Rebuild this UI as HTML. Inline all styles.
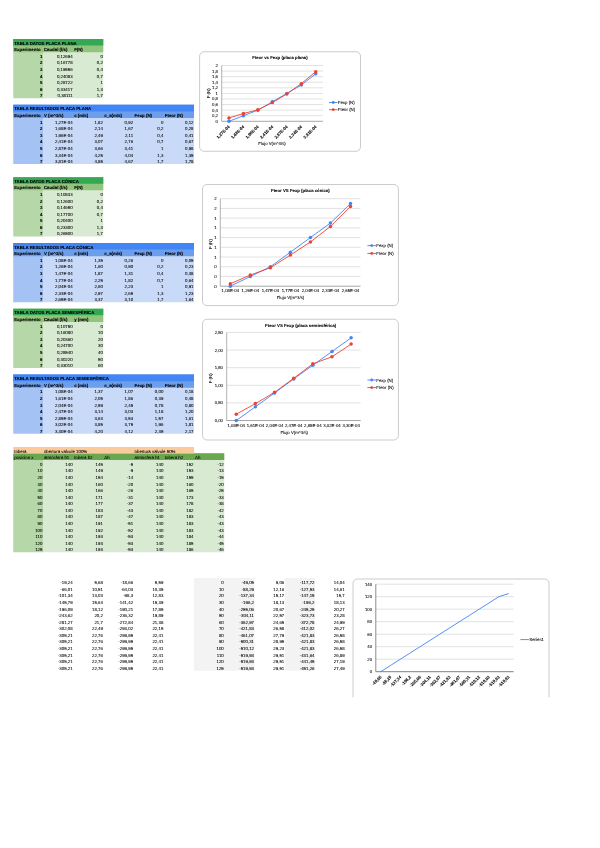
<!DOCTYPE html>
<html><head><meta charset="utf-8"><title>Hoja</title>
<style>
html,body{margin:0;padding:0;background:#fff}
body{width:600px;height:848px;position:relative;overflow:hidden;font-family:"Liberation Sans",sans-serif;text-rendering:geometricPrecision}
.b{position:absolute}
.t{-webkit-text-stroke:0.07px #000;position:absolute;font-size:4.35px;line-height:6.58px;height:6.58px;white-space:nowrap;color:#000}
.bd{font-weight:bold;-webkit-text-stroke:0.1px #000}
svg{position:absolute;left:0;top:0}
svg text{font-family:"Liberation Sans",sans-serif;stroke:#000;stroke-width:0.07px}
#w{position:absolute;left:0;top:0;width:600px;height:848px;zoom:4;transform:scale(.25);transform-origin:0 0}
</style></head><body><div id="w">
<div class="b" style="left:13.20px;top:39.00px;width:30.00px;height:59.22px;background:#b6d7a8"></div>
<div class="b" style="left:42.90px;top:39.00px;width:60.46px;height:59.22px;background:#d9ead3"></div>
<div class="b" style="left:13.20px;top:39.00px;width:90.16px;height:13.16px;background:#93c47d"></div>
<div class="b" style="left:13.20px;top:39.00px;width:90.16px;height:6.58px;background:#34a853"></div>
<div class="t bd" style="left:14.20px;text-align:left;top:39.80px">TABLA DATOS PLACA PLANA</div>
<div class="t bd" style="left:14.20px;text-align:left;top:46.38px">Experimento</div>
<div class="t bd" style="left:43.90px;text-align:left;top:46.38px">Caudal (l/s)</div>
<div class="t bd" style="left:74.13px;text-align:left;top:46.38px">F(N)</div>
<div class="t bd" style="left:13.20px;width:29.20px;text-align:right;top:52.96px">1</div>
<div class="t" style="left:42.90px;width:29.73px;text-align:right;top:52.96px">0,12694</div>
<div class="t" style="left:73.13px;width:29.73px;text-align:right;top:52.96px">0</div>
<div class="t bd" style="left:13.20px;width:29.20px;text-align:right;top:59.54px">2</div>
<div class="t" style="left:42.90px;width:29.73px;text-align:right;top:59.54px">0,16778</div>
<div class="t" style="left:73.13px;width:29.73px;text-align:right;top:59.54px">0,2</div>
<div class="t bd" style="left:13.20px;width:29.20px;text-align:right;top:66.12px">3</div>
<div class="t" style="left:42.90px;width:29.73px;text-align:right;top:66.12px">0,19556</div>
<div class="t" style="left:73.13px;width:29.73px;text-align:right;top:66.12px">0,4</div>
<div class="t bd" style="left:13.20px;width:29.20px;text-align:right;top:72.70px">4</div>
<div class="t" style="left:42.90px;width:29.73px;text-align:right;top:72.70px">0,24083</div>
<div class="t" style="left:73.13px;width:29.73px;text-align:right;top:72.70px">0,7</div>
<div class="t bd" style="left:13.20px;width:29.20px;text-align:right;top:79.28px">5</div>
<div class="t" style="left:42.90px;width:29.73px;text-align:right;top:79.28px">0,28722</div>
<div class="t" style="left:73.13px;width:29.73px;text-align:right;top:79.28px">1</div>
<div class="t bd" style="left:13.20px;width:29.20px;text-align:right;top:85.86px">6</div>
<div class="t" style="left:42.90px;width:29.73px;text-align:right;top:85.86px">0,33417</div>
<div class="t" style="left:73.13px;width:29.73px;text-align:right;top:85.86px">1,3</div>
<div class="t bd" style="left:13.20px;width:29.20px;text-align:right;top:92.44px">7</div>
<div class="t" style="left:42.90px;width:29.73px;text-align:right;top:92.44px">0,38111</div>
<div class="t" style="left:73.13px;width:29.73px;text-align:right;top:92.44px">1,7</div>
<div class="b" style="left:13.20px;top:104.80px;width:30.00px;height:59.22px;background:#a4c2f4"></div>
<div class="b" style="left:42.90px;top:104.80px;width:151.15px;height:59.22px;background:#c9daf8"></div>
<div class="b" style="left:13.20px;top:104.80px;width:180.85px;height:13.16px;background:#6d9eeb"></div>
<div class="b" style="left:13.20px;top:104.80px;width:180.85px;height:6.58px;background:#4285f4"></div>
<div class="t bd" style="left:14.20px;text-align:left;top:105.60px">TABLA RESULTADOS PLACA PLANA</div>
<div class="t bd" style="left:14.20px;text-align:left;top:112.18px">Experimento</div>
<div class="t bd" style="left:43.90px;text-align:left;top:112.18px">V (m^3/s)</div>
<div class="t bd" style="left:74.13px;text-align:left;top:112.18px">c (m/s)</div>
<div class="t bd" style="left:104.36px;text-align:left;top:112.18px">c_a(m/s)</div>
<div class="t bd" style="left:134.59px;text-align:left;top:112.18px">Fexp (N)</div>
<div class="t bd" style="left:164.82px;text-align:left;top:112.18px">Fteor (N)</div>
<div class="t bd" style="left:13.20px;width:29.20px;text-align:right;top:118.76px">1</div>
<div class="t" style="left:42.90px;width:29.73px;text-align:right;top:118.76px">1,27E-04</div>
<div class="t" style="left:73.13px;width:29.73px;text-align:right;top:118.76px">1,82</div>
<div class="t" style="left:103.36px;width:29.73px;text-align:right;top:118.76px">0,92</div>
<div class="t" style="left:133.59px;width:29.73px;text-align:right;top:118.76px">0</div>
<div class="t" style="left:163.82px;width:29.73px;text-align:right;top:118.76px">0,12</div>
<div class="t bd" style="left:13.20px;width:29.20px;text-align:right;top:125.34px">2</div>
<div class="t" style="left:42.90px;width:29.73px;text-align:right;top:125.34px">1,68E-04</div>
<div class="t" style="left:73.13px;width:29.73px;text-align:right;top:125.34px">2,14</div>
<div class="t" style="left:103.36px;width:29.73px;text-align:right;top:125.34px">1,67</div>
<div class="t" style="left:133.59px;width:29.73px;text-align:right;top:125.34px">0,2</div>
<div class="t" style="left:163.82px;width:29.73px;text-align:right;top:125.34px">0,28</div>
<div class="t bd" style="left:13.20px;width:29.20px;text-align:right;top:131.92px">3</div>
<div class="t" style="left:42.90px;width:29.73px;text-align:right;top:131.92px">1,96E-04</div>
<div class="t" style="left:73.13px;width:29.73px;text-align:right;top:131.92px">2,49</div>
<div class="t" style="left:103.36px;width:29.73px;text-align:right;top:131.92px">2,11</div>
<div class="t" style="left:133.59px;width:29.73px;text-align:right;top:131.92px">0,4</div>
<div class="t" style="left:163.82px;width:29.73px;text-align:right;top:131.92px">0,41</div>
<div class="t bd" style="left:13.20px;width:29.20px;text-align:right;top:138.50px">4</div>
<div class="t" style="left:42.90px;width:29.73px;text-align:right;top:138.50px">2,41E-04</div>
<div class="t" style="left:73.13px;width:29.73px;text-align:right;top:138.50px">3,07</div>
<div class="t" style="left:103.36px;width:29.73px;text-align:right;top:138.50px">2,76</div>
<div class="t" style="left:133.59px;width:29.73px;text-align:right;top:138.50px">0,7</div>
<div class="t" style="left:163.82px;width:29.73px;text-align:right;top:138.50px">0,67</div>
<div class="t bd" style="left:13.20px;width:29.20px;text-align:right;top:145.08px">5</div>
<div class="t" style="left:42.90px;width:29.73px;text-align:right;top:145.08px">2,87E-04</div>
<div class="t" style="left:73.13px;width:29.73px;text-align:right;top:145.08px">3,66</div>
<div class="t" style="left:103.36px;width:29.73px;text-align:right;top:145.08px">3,41</div>
<div class="t" style="left:133.59px;width:29.73px;text-align:right;top:145.08px">1</div>
<div class="t" style="left:163.82px;width:29.73px;text-align:right;top:145.08px">0,98</div>
<div class="t bd" style="left:13.20px;width:29.20px;text-align:right;top:151.66px">6</div>
<div class="t" style="left:42.90px;width:29.73px;text-align:right;top:151.66px">3,34E-04</div>
<div class="t" style="left:73.13px;width:29.73px;text-align:right;top:151.66px">4,25</div>
<div class="t" style="left:103.36px;width:29.73px;text-align:right;top:151.66px">4,04</div>
<div class="t" style="left:133.59px;width:29.73px;text-align:right;top:151.66px">1,3</div>
<div class="t" style="left:163.82px;width:29.73px;text-align:right;top:151.66px">1,35</div>
<div class="t bd" style="left:13.20px;width:29.20px;text-align:right;top:158.24px">7</div>
<div class="t" style="left:42.90px;width:29.73px;text-align:right;top:158.24px">3,81E-04</div>
<div class="t" style="left:73.13px;width:29.73px;text-align:right;top:158.24px">4,85</div>
<div class="t" style="left:103.36px;width:29.73px;text-align:right;top:158.24px">4,67</div>
<div class="t" style="left:133.59px;width:29.73px;text-align:right;top:158.24px">1,7</div>
<div class="t" style="left:163.82px;width:29.73px;text-align:right;top:158.24px">1,78</div>
<div class="b" style="left:13.20px;top:177.18px;width:30.00px;height:59.22px;background:#b6d7a8"></div>
<div class="b" style="left:42.90px;top:177.18px;width:60.46px;height:59.22px;background:#d9ead3"></div>
<div class="b" style="left:13.20px;top:177.18px;width:90.16px;height:13.16px;background:#93c47d"></div>
<div class="b" style="left:13.20px;top:177.18px;width:90.16px;height:6.58px;background:#34a853"></div>
<div class="t bd" style="left:14.20px;text-align:left;top:177.98px">TABLA DATOS PLACA CÓNICA</div>
<div class="t bd" style="left:14.20px;text-align:left;top:184.56px">Experimento</div>
<div class="t bd" style="left:43.90px;text-align:left;top:184.56px">Caudal (l/s)</div>
<div class="t bd" style="left:74.13px;text-align:left;top:184.56px">F(N)</div>
<div class="t bd" style="left:13.20px;width:29.20px;text-align:right;top:191.14px">1</div>
<div class="t" style="left:42.90px;width:29.73px;text-align:right;top:191.14px">0,10833</div>
<div class="t" style="left:73.13px;width:29.73px;text-align:right;top:191.14px">0</div>
<div class="t bd" style="left:13.20px;width:29.20px;text-align:right;top:197.72px">2</div>
<div class="t" style="left:42.90px;width:29.73px;text-align:right;top:197.72px">0,12600</div>
<div class="t" style="left:73.13px;width:29.73px;text-align:right;top:197.72px">0,2</div>
<div class="t bd" style="left:13.20px;width:29.20px;text-align:right;top:204.30px">3</div>
<div class="t" style="left:42.90px;width:29.73px;text-align:right;top:204.30px">0,14650</div>
<div class="t" style="left:73.13px;width:29.73px;text-align:right;top:204.30px">0,4</div>
<div class="t bd" style="left:13.20px;width:29.20px;text-align:right;top:210.88px">4</div>
<div class="t" style="left:42.90px;width:29.73px;text-align:right;top:210.88px">0,17700</div>
<div class="t" style="left:73.13px;width:29.73px;text-align:right;top:210.88px">0,7</div>
<div class="t bd" style="left:13.20px;width:29.20px;text-align:right;top:217.46px">5</div>
<div class="t" style="left:42.90px;width:29.73px;text-align:right;top:217.46px">0,20400</div>
<div class="t" style="left:73.13px;width:29.73px;text-align:right;top:217.46px">1</div>
<div class="t bd" style="left:13.20px;width:29.20px;text-align:right;top:224.04px">6</div>
<div class="t" style="left:42.90px;width:29.73px;text-align:right;top:224.04px">0,23300</div>
<div class="t" style="left:73.13px;width:29.73px;text-align:right;top:224.04px">1,3</div>
<div class="t bd" style="left:13.20px;width:29.20px;text-align:right;top:230.62px">7</div>
<div class="t" style="left:42.90px;width:29.73px;text-align:right;top:230.62px">0,26500</div>
<div class="t" style="left:73.13px;width:29.73px;text-align:right;top:230.62px">1,7</div>
<div class="b" style="left:13.20px;top:242.98px;width:30.00px;height:59.22px;background:#a4c2f4"></div>
<div class="b" style="left:42.90px;top:242.98px;width:151.15px;height:59.22px;background:#c9daf8"></div>
<div class="b" style="left:13.20px;top:242.98px;width:180.85px;height:13.16px;background:#6d9eeb"></div>
<div class="b" style="left:13.20px;top:242.98px;width:180.85px;height:6.58px;background:#4285f4"></div>
<div class="t bd" style="left:14.20px;text-align:left;top:243.78px">TABLA RESULTADOS PLACA CÓNICA</div>
<div class="t bd" style="left:14.20px;text-align:left;top:250.36px">Experimento</div>
<div class="t bd" style="left:43.90px;text-align:left;top:250.36px">V (m^3/s)</div>
<div class="t bd" style="left:74.13px;text-align:left;top:250.36px">c (m/s)</div>
<div class="t bd" style="left:104.36px;text-align:left;top:250.36px">c_a(m/s)</div>
<div class="t bd" style="left:134.59px;text-align:left;top:250.36px">Fexp (N)</div>
<div class="t bd" style="left:164.82px;text-align:left;top:250.36px">Fteor (N)</div>
<div class="t bd" style="left:13.20px;width:29.20px;text-align:right;top:256.94px">1</div>
<div class="t" style="left:42.90px;width:29.73px;text-align:right;top:256.94px">1,08E-04</div>
<div class="t" style="left:73.13px;width:29.73px;text-align:right;top:256.94px">1,35</div>
<div class="t" style="left:103.36px;width:29.73px;text-align:right;top:256.94px">0,26</div>
<div class="t" style="left:133.59px;width:29.73px;text-align:right;top:256.94px">0</div>
<div class="t" style="left:163.82px;width:29.73px;text-align:right;top:256.94px">0,05</div>
<div class="t bd" style="left:13.20px;width:29.20px;text-align:right;top:263.52px">2</div>
<div class="t" style="left:42.90px;width:29.73px;text-align:right;top:263.52px">1,26E-04</div>
<div class="t" style="left:73.13px;width:29.73px;text-align:right;top:263.52px">1,60</div>
<div class="t" style="left:103.36px;width:29.73px;text-align:right;top:263.52px">0,90</div>
<div class="t" style="left:133.59px;width:29.73px;text-align:right;top:263.52px">0,2</div>
<div class="t" style="left:163.82px;width:29.73px;text-align:right;top:263.52px">0,23</div>
<div class="t bd" style="left:13.20px;width:29.20px;text-align:right;top:270.10px">3</div>
<div class="t" style="left:42.90px;width:29.73px;text-align:right;top:270.10px">1,47E-04</div>
<div class="t" style="left:73.13px;width:29.73px;text-align:right;top:270.10px">1,87</div>
<div class="t" style="left:103.36px;width:29.73px;text-align:right;top:270.10px">1,31</div>
<div class="t" style="left:133.59px;width:29.73px;text-align:right;top:270.10px">0,4</div>
<div class="t" style="left:163.82px;width:29.73px;text-align:right;top:270.10px">0,38</div>
<div class="t bd" style="left:13.20px;width:29.20px;text-align:right;top:276.68px">4</div>
<div class="t" style="left:42.90px;width:29.73px;text-align:right;top:276.68px">1,77E-04</div>
<div class="t" style="left:73.13px;width:29.73px;text-align:right;top:276.68px">2,25</div>
<div class="t" style="left:103.36px;width:29.73px;text-align:right;top:276.68px">1,82</div>
<div class="t" style="left:133.59px;width:29.73px;text-align:right;top:276.68px">0,7</div>
<div class="t" style="left:163.82px;width:29.73px;text-align:right;top:276.68px">0,64</div>
<div class="t bd" style="left:13.20px;width:29.20px;text-align:right;top:283.26px">5</div>
<div class="t" style="left:42.90px;width:29.73px;text-align:right;top:283.26px">2,04E-04</div>
<div class="t" style="left:73.13px;width:29.73px;text-align:right;top:283.26px">2,60</div>
<div class="t" style="left:103.36px;width:29.73px;text-align:right;top:283.26px">2,23</div>
<div class="t" style="left:133.59px;width:29.73px;text-align:right;top:283.26px">1</div>
<div class="t" style="left:163.82px;width:29.73px;text-align:right;top:283.26px">0,91</div>
<div class="t bd" style="left:13.20px;width:29.20px;text-align:right;top:289.84px">6</div>
<div class="t" style="left:42.90px;width:29.73px;text-align:right;top:289.84px">2,33E-04</div>
<div class="t" style="left:73.13px;width:29.73px;text-align:right;top:289.84px">2,97</div>
<div class="t" style="left:103.36px;width:29.73px;text-align:right;top:289.84px">2,65</div>
<div class="t" style="left:133.59px;width:29.73px;text-align:right;top:289.84px">1,3</div>
<div class="t" style="left:163.82px;width:29.73px;text-align:right;top:289.84px">1,23</div>
<div class="t bd" style="left:13.20px;width:29.20px;text-align:right;top:296.42px">7</div>
<div class="t" style="left:42.90px;width:29.73px;text-align:right;top:296.42px">2,65E-04</div>
<div class="t" style="left:73.13px;width:29.73px;text-align:right;top:296.42px">3,37</div>
<div class="t" style="left:103.36px;width:29.73px;text-align:right;top:296.42px">3,10</div>
<div class="t" style="left:133.59px;width:29.73px;text-align:right;top:296.42px">1,7</div>
<div class="t" style="left:163.82px;width:29.73px;text-align:right;top:296.42px">1,64</div>
<div class="b" style="left:13.20px;top:308.78px;width:30.00px;height:59.22px;background:#b6d7a8"></div>
<div class="b" style="left:42.90px;top:308.78px;width:60.46px;height:59.22px;background:#d9ead3"></div>
<div class="b" style="left:13.20px;top:308.78px;width:90.16px;height:13.16px;background:#93c47d"></div>
<div class="b" style="left:13.20px;top:308.78px;width:90.16px;height:6.58px;background:#34a853"></div>
<div class="t bd" style="left:14.20px;text-align:left;top:309.58px">TABLA DATOS PLACA SEMIESFÉRICA</div>
<div class="t bd" style="left:14.20px;text-align:left;top:316.16px">Experimento</div>
<div class="t bd" style="left:43.90px;text-align:left;top:316.16px">Caudal (l/s)</div>
<div class="t bd" style="left:74.13px;text-align:left;top:316.16px">y (mm)</div>
<div class="t bd" style="left:13.20px;width:29.20px;text-align:right;top:322.74px">1</div>
<div class="t" style="left:42.90px;width:29.73px;text-align:right;top:322.74px">0,10750</div>
<div class="t" style="left:73.13px;width:29.73px;text-align:right;top:322.74px">0</div>
<div class="t bd" style="left:13.20px;width:29.20px;text-align:right;top:329.32px">2</div>
<div class="t" style="left:42.90px;width:29.73px;text-align:right;top:329.32px">0,16080</div>
<div class="t" style="left:73.13px;width:29.73px;text-align:right;top:329.32px">10</div>
<div class="t bd" style="left:13.20px;width:29.20px;text-align:right;top:335.90px">3</div>
<div class="t" style="left:42.90px;width:29.73px;text-align:right;top:335.90px">0,20360</div>
<div class="t" style="left:73.13px;width:29.73px;text-align:right;top:335.90px">20</div>
<div class="t bd" style="left:13.20px;width:29.20px;text-align:right;top:342.48px">4</div>
<div class="t" style="left:42.90px;width:29.73px;text-align:right;top:342.48px">0,24700</div>
<div class="t" style="left:73.13px;width:29.73px;text-align:right;top:342.48px">30</div>
<div class="t bd" style="left:13.20px;width:29.20px;text-align:right;top:349.06px">5</div>
<div class="t" style="left:42.90px;width:29.73px;text-align:right;top:349.06px">0,28540</div>
<div class="t" style="left:73.13px;width:29.73px;text-align:right;top:349.06px">40</div>
<div class="t bd" style="left:13.20px;width:29.20px;text-align:right;top:355.64px">6</div>
<div class="t" style="left:42.90px;width:29.73px;text-align:right;top:355.64px">0,30220</div>
<div class="t" style="left:73.13px;width:29.73px;text-align:right;top:355.64px">50</div>
<div class="t bd" style="left:13.20px;width:29.20px;text-align:right;top:362.22px">7</div>
<div class="t" style="left:42.90px;width:29.73px;text-align:right;top:362.22px">0,33010</div>
<div class="t" style="left:73.13px;width:29.73px;text-align:right;top:362.22px">60</div>
<div class="b" style="left:13.20px;top:374.58px;width:30.00px;height:59.22px;background:#a4c2f4"></div>
<div class="b" style="left:42.90px;top:374.58px;width:151.15px;height:59.22px;background:#c9daf8"></div>
<div class="b" style="left:13.20px;top:374.58px;width:180.85px;height:13.16px;background:#6d9eeb"></div>
<div class="b" style="left:13.20px;top:374.58px;width:180.85px;height:6.58px;background:#4285f4"></div>
<div class="t bd" style="left:14.20px;text-align:left;top:375.38px">TABLA RESULTADOS PLACA SEMIESFÉRICA</div>
<div class="t bd" style="left:14.20px;text-align:left;top:381.96px">Experimento</div>
<div class="t bd" style="left:43.90px;text-align:left;top:381.96px">V (m^3/s)</div>
<div class="t bd" style="left:74.13px;text-align:left;top:381.96px">c (m/s)</div>
<div class="t bd" style="left:104.36px;text-align:left;top:381.96px">c_a(m/s)</div>
<div class="t bd" style="left:134.59px;text-align:left;top:381.96px">Fexp (N)</div>
<div class="t bd" style="left:164.82px;text-align:left;top:381.96px">Fteor (N)</div>
<div class="t bd" style="left:13.20px;width:29.20px;text-align:right;top:388.54px">1</div>
<div class="t" style="left:42.90px;width:29.73px;text-align:right;top:388.54px">1,08E-04</div>
<div class="t" style="left:73.13px;width:29.73px;text-align:right;top:388.54px">1,37</div>
<div class="t" style="left:103.36px;width:29.73px;text-align:right;top:388.54px">1,07</div>
<div class="t" style="left:133.59px;width:29.73px;text-align:right;top:388.54px">0,00</div>
<div class="t" style="left:163.82px;width:29.73px;text-align:right;top:388.54px">0,18</div>
<div class="t bd" style="left:13.20px;width:29.20px;text-align:right;top:395.12px">2</div>
<div class="t" style="left:42.90px;width:29.73px;text-align:right;top:395.12px">1,61E-04</div>
<div class="t" style="left:73.13px;width:29.73px;text-align:right;top:395.12px">2,05</div>
<div class="t" style="left:103.36px;width:29.73px;text-align:right;top:395.12px">1,86</div>
<div class="t" style="left:133.59px;width:29.73px;text-align:right;top:395.12px">0,39</div>
<div class="t" style="left:163.82px;width:29.73px;text-align:right;top:395.12px">0,48</div>
<div class="t bd" style="left:13.20px;width:29.20px;text-align:right;top:401.70px">3</div>
<div class="t" style="left:42.90px;width:29.73px;text-align:right;top:401.70px">2,04E-04</div>
<div class="t" style="left:73.13px;width:29.73px;text-align:right;top:401.70px">2,59</div>
<div class="t" style="left:103.36px;width:29.73px;text-align:right;top:401.70px">2,45</div>
<div class="t" style="left:133.59px;width:29.73px;text-align:right;top:401.70px">0,78</div>
<div class="t" style="left:163.82px;width:29.73px;text-align:right;top:401.70px">0,80</div>
<div class="t bd" style="left:13.20px;width:29.20px;text-align:right;top:408.28px">4</div>
<div class="t" style="left:42.90px;width:29.73px;text-align:right;top:408.28px">2,47E-04</div>
<div class="t" style="left:73.13px;width:29.73px;text-align:right;top:408.28px">3,14</div>
<div class="t" style="left:103.36px;width:29.73px;text-align:right;top:408.28px">3,03</div>
<div class="t" style="left:133.59px;width:29.73px;text-align:right;top:408.28px">1,18</div>
<div class="t" style="left:163.82px;width:29.73px;text-align:right;top:408.28px">1,20</div>
<div class="t bd" style="left:13.20px;width:29.20px;text-align:right;top:414.86px">5</div>
<div class="t" style="left:42.90px;width:29.73px;text-align:right;top:414.86px">2,85E-04</div>
<div class="t" style="left:73.13px;width:29.73px;text-align:right;top:414.86px">3,63</div>
<div class="t" style="left:103.36px;width:29.73px;text-align:right;top:414.86px">3,53</div>
<div class="t" style="left:133.59px;width:29.73px;text-align:right;top:414.86px">1,57</div>
<div class="t" style="left:163.82px;width:29.73px;text-align:right;top:414.86px">1,61</div>
<div class="t bd" style="left:13.20px;width:29.20px;text-align:right;top:421.44px">6</div>
<div class="t" style="left:42.90px;width:29.73px;text-align:right;top:421.44px">3,02E-04</div>
<div class="t" style="left:73.13px;width:29.73px;text-align:right;top:421.44px">3,85</div>
<div class="t" style="left:103.36px;width:29.73px;text-align:right;top:421.44px">3,75</div>
<div class="t" style="left:133.59px;width:29.73px;text-align:right;top:421.44px">1,96</div>
<div class="t" style="left:163.82px;width:29.73px;text-align:right;top:421.44px">1,81</div>
<div class="t bd" style="left:13.20px;width:29.20px;text-align:right;top:428.02px">7</div>
<div class="t" style="left:42.90px;width:29.73px;text-align:right;top:428.02px">3,30E-04</div>
<div class="t" style="left:73.13px;width:29.73px;text-align:right;top:428.02px">4,20</div>
<div class="t" style="left:103.36px;width:29.73px;text-align:right;top:428.02px">4,12</div>
<div class="t" style="left:133.59px;width:29.73px;text-align:right;top:428.02px">2,35</div>
<div class="t" style="left:163.82px;width:29.73px;text-align:right;top:428.02px">2,17</div>
<div class="b" style="left:13.20px;top:453.54px;width:30.00px;height:98.70px;background:#b6d7a8"></div>
<div class="b" style="left:42.90px;top:453.54px;width:181.38px;height:98.70px;background:#d9ead3"></div>
<div class="b" style="left:13.20px;top:453.24px;width:211.08px;height:6.88px;background:#6aa84f"></div>
<div class="b" style="left:13.20px;top:446.96px;width:180.85px;height:6.58px;background:#f9cb9c"></div>
<div class="t" style="left:14.20px;text-align:left;top:447.76px">tobera</div>
<div class="t" style="left:43.90px;text-align:left;top:447.76px">obertura valvule 100%</div>
<div class="t" style="left:134.59px;text-align:left;top:447.76px">obertura valvule 50%</div>
<div class="t" style="left:14.20px;text-align:left;top:454.34px">posicion x</div>
<div class="t" style="left:43.90px;text-align:left;top:454.34px">atmosfera h1</div>
<div class="t" style="left:74.13px;text-align:left;top:454.34px">tobera h2</div>
<div class="t" style="left:104.36px;text-align:left;top:454.34px">Δh</div>
<div class="t" style="left:134.59px;text-align:left;top:454.34px">atmosfera h1</div>
<div class="t" style="left:164.82px;text-align:left;top:454.34px">tobera h2</div>
<div class="t" style="left:195.05px;text-align:left;top:454.34px">Δh</div>
<div class="t" style="left:13.20px;width:29.20px;text-align:right;top:460.92px">0</div>
<div class="t" style="left:42.90px;width:29.73px;text-align:right;top:460.92px">140</div>
<div class="t" style="left:73.13px;width:29.73px;text-align:right;top:460.92px">145</div>
<div class="t" style="left:103.36px;width:29.73px;text-align:right;top:460.92px">-5</div>
<div class="t" style="left:133.59px;width:29.73px;text-align:right;top:460.92px">140</div>
<div class="t" style="left:163.82px;width:29.73px;text-align:right;top:460.92px">152</div>
<div class="t" style="left:194.05px;width:29.73px;text-align:right;top:460.92px">-12</div>
<div class="t" style="left:13.20px;width:29.20px;text-align:right;top:467.50px">10</div>
<div class="t" style="left:42.90px;width:29.73px;text-align:right;top:467.50px">140</div>
<div class="t" style="left:73.13px;width:29.73px;text-align:right;top:467.50px">149</div>
<div class="t" style="left:103.36px;width:29.73px;text-align:right;top:467.50px">-9</div>
<div class="t" style="left:133.59px;width:29.73px;text-align:right;top:467.50px">140</div>
<div class="t" style="left:163.82px;width:29.73px;text-align:right;top:467.50px">153</div>
<div class="t" style="left:194.05px;width:29.73px;text-align:right;top:467.50px">-13</div>
<div class="t" style="left:13.20px;width:29.20px;text-align:right;top:474.08px">20</div>
<div class="t" style="left:42.90px;width:29.73px;text-align:right;top:474.08px">140</div>
<div class="t" style="left:73.13px;width:29.73px;text-align:right;top:474.08px">154</div>
<div class="t" style="left:103.36px;width:29.73px;text-align:right;top:474.08px">-14</div>
<div class="t" style="left:133.59px;width:29.73px;text-align:right;top:474.08px">140</div>
<div class="t" style="left:163.82px;width:29.73px;text-align:right;top:474.08px">155</div>
<div class="t" style="left:194.05px;width:29.73px;text-align:right;top:474.08px">-15</div>
<div class="t" style="left:13.20px;width:29.20px;text-align:right;top:480.66px">30</div>
<div class="t" style="left:42.90px;width:29.73px;text-align:right;top:480.66px">140</div>
<div class="t" style="left:73.13px;width:29.73px;text-align:right;top:480.66px">160</div>
<div class="t" style="left:103.36px;width:29.73px;text-align:right;top:480.66px">-20</div>
<div class="t" style="left:133.59px;width:29.73px;text-align:right;top:480.66px">140</div>
<div class="t" style="left:163.82px;width:29.73px;text-align:right;top:480.66px">160</div>
<div class="t" style="left:194.05px;width:29.73px;text-align:right;top:480.66px">-20</div>
<div class="t" style="left:13.20px;width:29.20px;text-align:right;top:487.24px">40</div>
<div class="t" style="left:42.90px;width:29.73px;text-align:right;top:487.24px">140</div>
<div class="t" style="left:73.13px;width:29.73px;text-align:right;top:487.24px">166</div>
<div class="t" style="left:103.36px;width:29.73px;text-align:right;top:487.24px">-26</div>
<div class="t" style="left:133.59px;width:29.73px;text-align:right;top:487.24px">140</div>
<div class="t" style="left:163.82px;width:29.73px;text-align:right;top:487.24px">165</div>
<div class="t" style="left:194.05px;width:29.73px;text-align:right;top:487.24px">-25</div>
<div class="t" style="left:13.20px;width:29.20px;text-align:right;top:493.82px">50</div>
<div class="t" style="left:42.90px;width:29.73px;text-align:right;top:493.82px">140</div>
<div class="t" style="left:73.13px;width:29.73px;text-align:right;top:493.82px">171</div>
<div class="t" style="left:103.36px;width:29.73px;text-align:right;top:493.82px">-31</div>
<div class="t" style="left:133.59px;width:29.73px;text-align:right;top:493.82px">140</div>
<div class="t" style="left:163.82px;width:29.73px;text-align:right;top:493.82px">173</div>
<div class="t" style="left:194.05px;width:29.73px;text-align:right;top:493.82px">-33</div>
<div class="t" style="left:13.20px;width:29.20px;text-align:right;top:500.40px">60</div>
<div class="t" style="left:42.90px;width:29.73px;text-align:right;top:500.40px">140</div>
<div class="t" style="left:73.13px;width:29.73px;text-align:right;top:500.40px">177</div>
<div class="t" style="left:103.36px;width:29.73px;text-align:right;top:500.40px">-37</div>
<div class="t" style="left:133.59px;width:29.73px;text-align:right;top:500.40px">140</div>
<div class="t" style="left:163.82px;width:29.73px;text-align:right;top:500.40px">178</div>
<div class="t" style="left:194.05px;width:29.73px;text-align:right;top:500.40px">-38</div>
<div class="t" style="left:13.20px;width:29.20px;text-align:right;top:506.98px">70</div>
<div class="t" style="left:42.90px;width:29.73px;text-align:right;top:506.98px">140</div>
<div class="t" style="left:73.13px;width:29.73px;text-align:right;top:506.98px">183</div>
<div class="t" style="left:103.36px;width:29.73px;text-align:right;top:506.98px">-43</div>
<div class="t" style="left:133.59px;width:29.73px;text-align:right;top:506.98px">140</div>
<div class="t" style="left:163.82px;width:29.73px;text-align:right;top:506.98px">182</div>
<div class="t" style="left:194.05px;width:29.73px;text-align:right;top:506.98px">-42</div>
<div class="t" style="left:13.20px;width:29.20px;text-align:right;top:513.56px">80</div>
<div class="t" style="left:42.90px;width:29.73px;text-align:right;top:513.56px">140</div>
<div class="t" style="left:73.13px;width:29.73px;text-align:right;top:513.56px">187</div>
<div class="t" style="left:103.36px;width:29.73px;text-align:right;top:513.56px">-47</div>
<div class="t" style="left:133.59px;width:29.73px;text-align:right;top:513.56px">140</div>
<div class="t" style="left:163.82px;width:29.73px;text-align:right;top:513.56px">183</div>
<div class="t" style="left:194.05px;width:29.73px;text-align:right;top:513.56px">-43</div>
<div class="t" style="left:13.20px;width:29.20px;text-align:right;top:520.14px">90</div>
<div class="t" style="left:42.90px;width:29.73px;text-align:right;top:520.14px">140</div>
<div class="t" style="left:73.13px;width:29.73px;text-align:right;top:520.14px">191</div>
<div class="t" style="left:103.36px;width:29.73px;text-align:right;top:520.14px">-51</div>
<div class="t" style="left:133.59px;width:29.73px;text-align:right;top:520.14px">140</div>
<div class="t" style="left:163.82px;width:29.73px;text-align:right;top:520.14px">183</div>
<div class="t" style="left:194.05px;width:29.73px;text-align:right;top:520.14px">-43</div>
<div class="t" style="left:13.20px;width:29.20px;text-align:right;top:526.72px">100</div>
<div class="t" style="left:42.90px;width:29.73px;text-align:right;top:526.72px">140</div>
<div class="t" style="left:73.13px;width:29.73px;text-align:right;top:526.72px">192</div>
<div class="t" style="left:103.36px;width:29.73px;text-align:right;top:526.72px">-52</div>
<div class="t" style="left:133.59px;width:29.73px;text-align:right;top:526.72px">140</div>
<div class="t" style="left:163.82px;width:29.73px;text-align:right;top:526.72px">183</div>
<div class="t" style="left:194.05px;width:29.73px;text-align:right;top:526.72px">-43</div>
<div class="t" style="left:13.20px;width:29.20px;text-align:right;top:533.30px">110</div>
<div class="t" style="left:42.90px;width:29.73px;text-align:right;top:533.30px">140</div>
<div class="t" style="left:73.13px;width:29.73px;text-align:right;top:533.30px">193</div>
<div class="t" style="left:103.36px;width:29.73px;text-align:right;top:533.30px">-53</div>
<div class="t" style="left:133.59px;width:29.73px;text-align:right;top:533.30px">140</div>
<div class="t" style="left:163.82px;width:29.73px;text-align:right;top:533.30px">184</div>
<div class="t" style="left:194.05px;width:29.73px;text-align:right;top:533.30px">-44</div>
<div class="t" style="left:13.20px;width:29.20px;text-align:right;top:539.88px">120</div>
<div class="t" style="left:42.90px;width:29.73px;text-align:right;top:539.88px">140</div>
<div class="t" style="left:73.13px;width:29.73px;text-align:right;top:539.88px">193</div>
<div class="t" style="left:103.36px;width:29.73px;text-align:right;top:539.88px">-53</div>
<div class="t" style="left:133.59px;width:29.73px;text-align:right;top:539.88px">140</div>
<div class="t" style="left:163.82px;width:29.73px;text-align:right;top:539.88px">185</div>
<div class="t" style="left:194.05px;width:29.73px;text-align:right;top:539.88px">-45</div>
<div class="t" style="left:13.20px;width:29.20px;text-align:right;top:546.46px">125</div>
<div class="t" style="left:42.90px;width:29.73px;text-align:right;top:546.46px">140</div>
<div class="t" style="left:73.13px;width:29.73px;text-align:right;top:546.46px">193</div>
<div class="t" style="left:103.36px;width:29.73px;text-align:right;top:546.46px">-53</div>
<div class="t" style="left:133.59px;width:29.73px;text-align:right;top:546.46px">140</div>
<div class="t" style="left:163.82px;width:29.73px;text-align:right;top:546.46px">186</div>
<div class="t" style="left:194.05px;width:29.73px;text-align:right;top:546.46px">-46</div>
<div class="b" style="left:194.05px;top:577.96px;width:60.46px;height:92.72px;background:#f3f3f3"></div>
<div class="b" style="left:284.74px;top:577.96px;width:30.23px;height:92.72px;background:#f3f3f3"></div>
<div class="t" style="left:42.90px;width:29.73px;text-align:right;top:579.36px">-19,24</div>
<div class="t" style="left:73.13px;width:29.73px;text-align:right;top:579.36px">5,68</div>
<div class="t" style="left:103.36px;width:29.73px;text-align:right;top:579.36px">-18,66</div>
<div class="t" style="left:133.59px;width:29.73px;text-align:right;top:579.36px">5,59</div>
<div class="t" style="left:194.05px;width:29.73px;text-align:right;top:579.36px">0</div>
<div class="t" style="left:224.28px;width:29.73px;text-align:right;top:579.36px">-49,05</div>
<div class="t" style="left:254.51px;width:29.73px;text-align:right;top:579.36px">9,06</div>
<div class="t" style="left:284.74px;width:29.73px;text-align:right;top:579.36px">-117,72</div>
<div class="t" style="left:314.97px;width:29.73px;text-align:right;top:579.36px">14,04</div>
<div class="t" style="left:42.90px;width:29.73px;text-align:right;top:585.94px">-66,01</div>
<div class="t" style="left:73.13px;width:29.73px;text-align:right;top:585.94px">10,51</div>
<div class="t" style="left:103.36px;width:29.73px;text-align:right;top:585.94px">-64,03</div>
<div class="t" style="left:133.59px;width:29.73px;text-align:right;top:585.94px">10,35</div>
<div class="t" style="left:194.05px;width:29.73px;text-align:right;top:585.94px">10</div>
<div class="t" style="left:224.28px;width:29.73px;text-align:right;top:585.94px">-88,29</div>
<div class="t" style="left:254.51px;width:29.73px;text-align:right;top:585.94px">12,16</div>
<div class="t" style="left:284.74px;width:29.73px;text-align:right;top:585.94px">-127,53</div>
<div class="t" style="left:314.97px;width:29.73px;text-align:right;top:585.94px">14,61</div>
<div class="t" style="left:42.90px;width:29.73px;text-align:right;top:592.52px">-101,34</div>
<div class="t" style="left:73.13px;width:29.73px;text-align:right;top:592.52px">13,03</div>
<div class="t" style="left:103.36px;width:29.73px;text-align:right;top:592.52px">-98,3</div>
<div class="t" style="left:133.59px;width:29.73px;text-align:right;top:592.52px">12,83</div>
<div class="t" style="left:194.05px;width:29.73px;text-align:right;top:592.52px">20</div>
<div class="t" style="left:224.28px;width:29.73px;text-align:right;top:592.52px">-137,34</div>
<div class="t" style="left:254.51px;width:29.73px;text-align:right;top:592.52px">15,17</div>
<div class="t" style="left:284.74px;width:29.73px;text-align:right;top:592.52px">-147,15</div>
<div class="t" style="left:314.97px;width:29.73px;text-align:right;top:592.52px">15,7</div>
<div class="t" style="left:42.90px;width:29.73px;text-align:right;top:599.10px">-145,79</div>
<div class="t" style="left:73.13px;width:29.73px;text-align:right;top:599.10px">15,63</div>
<div class="t" style="left:103.36px;width:29.73px;text-align:right;top:599.10px">-141,42</div>
<div class="t" style="left:133.59px;width:29.73px;text-align:right;top:599.10px">15,39</div>
<div class="t" style="left:194.05px;width:29.73px;text-align:right;top:599.10px">30</div>
<div class="t" style="left:224.28px;width:29.73px;text-align:right;top:599.10px">-196,2</div>
<div class="t" style="left:254.51px;width:29.73px;text-align:right;top:599.10px">18,13</div>
<div class="t" style="left:284.74px;width:29.73px;text-align:right;top:599.10px">-196,2</div>
<div class="t" style="left:314.97px;width:29.73px;text-align:right;top:599.10px">18,13</div>
<div class="t" style="left:42.90px;width:29.73px;text-align:right;top:605.68px">-196,09</div>
<div class="t" style="left:73.13px;width:29.73px;text-align:right;top:605.68px">18,12</div>
<div class="t" style="left:103.36px;width:29.73px;text-align:right;top:605.68px">-190,21</div>
<div class="t" style="left:133.59px;width:29.73px;text-align:right;top:605.68px">17,85</div>
<div class="t" style="left:194.05px;width:29.73px;text-align:right;top:605.68px">40</div>
<div class="t" style="left:224.28px;width:29.73px;text-align:right;top:605.68px">-255,06</div>
<div class="t" style="left:254.51px;width:29.73px;text-align:right;top:605.68px">20,67</div>
<div class="t" style="left:284.74px;width:29.73px;text-align:right;top:605.68px">-245,25</div>
<div class="t" style="left:314.97px;width:29.73px;text-align:right;top:605.68px">20,27</div>
<div class="t" style="left:42.90px;width:29.73px;text-align:right;top:612.26px">-243,62</div>
<div class="t" style="left:73.13px;width:29.73px;text-align:right;top:612.26px">20,2</div>
<div class="t" style="left:103.36px;width:29.73px;text-align:right;top:612.26px">-236,32</div>
<div class="t" style="left:133.59px;width:29.73px;text-align:right;top:612.26px">19,89</div>
<div class="t" style="left:194.05px;width:29.73px;text-align:right;top:612.26px">50</div>
<div class="t" style="left:224.28px;width:29.73px;text-align:right;top:612.26px">-304,11</div>
<div class="t" style="left:254.51px;width:29.73px;text-align:right;top:612.26px">22,57</div>
<div class="t" style="left:284.74px;width:29.73px;text-align:right;top:612.26px">-323,73</div>
<div class="t" style="left:314.97px;width:29.73px;text-align:right;top:612.26px">23,28</div>
<div class="t" style="left:42.90px;width:29.73px;text-align:right;top:618.84px">-281,27</div>
<div class="t" style="left:73.13px;width:29.73px;text-align:right;top:618.84px">21,7</div>
<div class="t" style="left:103.36px;width:29.73px;text-align:right;top:618.84px">-272,84</div>
<div class="t" style="left:133.59px;width:29.73px;text-align:right;top:618.84px">21,38</div>
<div class="t" style="left:194.05px;width:29.73px;text-align:right;top:618.84px">60</div>
<div class="t" style="left:224.28px;width:29.73px;text-align:right;top:618.84px">-362,97</div>
<div class="t" style="left:254.51px;width:29.73px;text-align:right;top:618.84px">24,65</div>
<div class="t" style="left:284.74px;width:29.73px;text-align:right;top:618.84px">-372,78</div>
<div class="t" style="left:314.97px;width:29.73px;text-align:right;top:618.84px">24,99</div>
<div class="t" style="left:42.90px;width:29.73px;text-align:right;top:625.42px">-302,08</div>
<div class="t" style="left:73.13px;width:29.73px;text-align:right;top:625.42px">22,49</div>
<div class="t" style="left:103.36px;width:29.73px;text-align:right;top:625.42px">-293,02</div>
<div class="t" style="left:133.59px;width:29.73px;text-align:right;top:625.42px">22,15</div>
<div class="t" style="left:194.05px;width:29.73px;text-align:right;top:625.42px">70</div>
<div class="t" style="left:224.28px;width:29.73px;text-align:right;top:625.42px">-421,83</div>
<div class="t" style="left:254.51px;width:29.73px;text-align:right;top:625.42px">26,58</div>
<div class="t" style="left:284.74px;width:29.73px;text-align:right;top:625.42px">-412,02</div>
<div class="t" style="left:314.97px;width:29.73px;text-align:right;top:625.42px">26,27</div>
<div class="t" style="left:42.90px;width:29.73px;text-align:right;top:632.00px">-305,21</div>
<div class="t" style="left:73.13px;width:29.73px;text-align:right;top:632.00px">22,76</div>
<div class="t" style="left:103.36px;width:29.73px;text-align:right;top:632.00px">-299,95</div>
<div class="t" style="left:133.59px;width:29.73px;text-align:right;top:632.00px">22,41</div>
<div class="t" style="left:194.05px;width:29.73px;text-align:right;top:632.00px">80</div>
<div class="t" style="left:224.28px;width:29.73px;text-align:right;top:632.00px">-461,07</div>
<div class="t" style="left:254.51px;width:29.73px;text-align:right;top:632.00px">27,79</div>
<div class="t" style="left:284.74px;width:29.73px;text-align:right;top:632.00px">-421,83</div>
<div class="t" style="left:314.97px;width:29.73px;text-align:right;top:632.00px">26,58</div>
<div class="t" style="left:42.90px;width:29.73px;text-align:right;top:638.58px">-305,21</div>
<div class="t" style="left:73.13px;width:29.73px;text-align:right;top:638.58px">22,76</div>
<div class="t" style="left:103.36px;width:29.73px;text-align:right;top:638.58px">-299,95</div>
<div class="t" style="left:133.59px;width:29.73px;text-align:right;top:638.58px">22,41</div>
<div class="t" style="left:194.05px;width:29.73px;text-align:right;top:638.58px">90</div>
<div class="t" style="left:224.28px;width:29.73px;text-align:right;top:638.58px">-500,31</div>
<div class="t" style="left:254.51px;width:29.73px;text-align:right;top:638.58px">28,95</div>
<div class="t" style="left:284.74px;width:29.73px;text-align:right;top:638.58px">-421,83</div>
<div class="t" style="left:314.97px;width:29.73px;text-align:right;top:638.58px">26,58</div>
<div class="t" style="left:42.90px;width:29.73px;text-align:right;top:645.16px">-305,21</div>
<div class="t" style="left:73.13px;width:29.73px;text-align:right;top:645.16px">22,76</div>
<div class="t" style="left:103.36px;width:29.73px;text-align:right;top:645.16px">-299,95</div>
<div class="t" style="left:133.59px;width:29.73px;text-align:right;top:645.16px">22,41</div>
<div class="t" style="left:194.05px;width:29.73px;text-align:right;top:645.16px">100</div>
<div class="t" style="left:224.28px;width:29.73px;text-align:right;top:645.16px">-510,12</div>
<div class="t" style="left:254.51px;width:29.73px;text-align:right;top:645.16px">29,23</div>
<div class="t" style="left:284.74px;width:29.73px;text-align:right;top:645.16px">-421,83</div>
<div class="t" style="left:314.97px;width:29.73px;text-align:right;top:645.16px">26,58</div>
<div class="t" style="left:42.90px;width:29.73px;text-align:right;top:651.74px">-305,21</div>
<div class="t" style="left:73.13px;width:29.73px;text-align:right;top:651.74px">22,76</div>
<div class="t" style="left:103.36px;width:29.73px;text-align:right;top:651.74px">-299,95</div>
<div class="t" style="left:133.59px;width:29.73px;text-align:right;top:651.74px">22,41</div>
<div class="t" style="left:194.05px;width:29.73px;text-align:right;top:651.74px">110</div>
<div class="t" style="left:224.28px;width:29.73px;text-align:right;top:651.74px">-519,93</div>
<div class="t" style="left:254.51px;width:29.73px;text-align:right;top:651.74px">29,51</div>
<div class="t" style="left:284.74px;width:29.73px;text-align:right;top:651.74px">-431,64</div>
<div class="t" style="left:314.97px;width:29.73px;text-align:right;top:651.74px">26,89</div>
<div class="t" style="left:42.90px;width:29.73px;text-align:right;top:658.32px">-305,21</div>
<div class="t" style="left:73.13px;width:29.73px;text-align:right;top:658.32px">22,76</div>
<div class="t" style="left:103.36px;width:29.73px;text-align:right;top:658.32px">-299,95</div>
<div class="t" style="left:133.59px;width:29.73px;text-align:right;top:658.32px">22,41</div>
<div class="t" style="left:194.05px;width:29.73px;text-align:right;top:658.32px">120</div>
<div class="t" style="left:224.28px;width:29.73px;text-align:right;top:658.32px">-519,93</div>
<div class="t" style="left:254.51px;width:29.73px;text-align:right;top:658.32px">29,51</div>
<div class="t" style="left:284.74px;width:29.73px;text-align:right;top:658.32px">-441,45</div>
<div class="t" style="left:314.97px;width:29.73px;text-align:right;top:658.32px">27,19</div>
<div class="t" style="left:42.90px;width:29.73px;text-align:right;top:664.90px">-305,21</div>
<div class="t" style="left:73.13px;width:29.73px;text-align:right;top:664.90px">22,76</div>
<div class="t" style="left:103.36px;width:29.73px;text-align:right;top:664.90px">-299,95</div>
<div class="t" style="left:133.59px;width:29.73px;text-align:right;top:664.90px">22,41</div>
<div class="t" style="left:194.05px;width:29.73px;text-align:right;top:664.90px">125</div>
<div class="t" style="left:224.28px;width:29.73px;text-align:right;top:664.90px">-519,93</div>
<div class="t" style="left:254.51px;width:29.73px;text-align:right;top:664.90px">29,51</div>
<div class="t" style="left:284.74px;width:29.73px;text-align:right;top:664.90px">-451,26</div>
<div class="t" style="left:314.97px;width:29.73px;text-align:right;top:664.90px">27,49</div>
<svg width="600" height="848" viewBox="0 0 600 848">
<rect x="199.6" y="51.75" width="160.9" height="99.5" rx="4.5" ry="4.5" fill="#fff" stroke="#c2c2c2" stroke-width="0.85"/>
<text x="218.00" y="122.80" font-size="4.3" text-anchor="end" fill="#000">0</text>
<line x1="221.7" y1="115.72" x2="323" y2="115.72" stroke="#cfcfcf" stroke-width="0.6"/>
<text x="218.00" y="117.22" font-size="4.3" text-anchor="end" fill="#000">0,2</text>
<line x1="221.7" y1="110.14" x2="323" y2="110.14" stroke="#cfcfcf" stroke-width="0.6"/>
<text x="218.00" y="111.64" font-size="4.3" text-anchor="end" fill="#000">0,4</text>
<line x1="221.7" y1="104.56" x2="323" y2="104.56" stroke="#cfcfcf" stroke-width="0.6"/>
<text x="218.00" y="106.06" font-size="4.3" text-anchor="end" fill="#000">0,6</text>
<line x1="221.7" y1="98.98" x2="323" y2="98.98" stroke="#cfcfcf" stroke-width="0.6"/>
<text x="218.00" y="100.48" font-size="4.3" text-anchor="end" fill="#000">0,8</text>
<line x1="221.7" y1="93.40" x2="323" y2="93.40" stroke="#cfcfcf" stroke-width="0.6"/>
<text x="218.00" y="94.90" font-size="4.3" text-anchor="end" fill="#000">1</text>
<line x1="221.7" y1="87.82" x2="323" y2="87.82" stroke="#cfcfcf" stroke-width="0.6"/>
<text x="218.00" y="89.32" font-size="4.3" text-anchor="end" fill="#000">1,2</text>
<line x1="221.7" y1="82.24" x2="323" y2="82.24" stroke="#cfcfcf" stroke-width="0.6"/>
<text x="218.00" y="83.74" font-size="4.3" text-anchor="end" fill="#000">1,4</text>
<line x1="221.7" y1="76.66" x2="323" y2="76.66" stroke="#cfcfcf" stroke-width="0.6"/>
<text x="218.00" y="78.16" font-size="4.3" text-anchor="end" fill="#000">1,6</text>
<line x1="221.7" y1="71.08" x2="323" y2="71.08" stroke="#cfcfcf" stroke-width="0.6"/>
<text x="218.00" y="72.58" font-size="4.3" text-anchor="end" fill="#000">1,8</text>
<line x1="221.7" y1="65.50" x2="323" y2="65.50" stroke="#cfcfcf" stroke-width="0.6"/>
<text x="218.00" y="67.00" font-size="4.3" text-anchor="end" fill="#000">2</text>
<line x1="221.7" y1="65.5" x2="221.7" y2="121.3" stroke="#808080" stroke-width="0.6"/>
<line x1="221.7" y1="121.3" x2="323" y2="121.3" stroke="#808080" stroke-width="0.7"/>
<text x="230.14" y="127.00" font-size="4.15" text-anchor="end" font-weight="bold" transform="rotate(-45 230.14 127.00)" fill="#000">1,27E-04</text>
<text x="244.61" y="127.00" font-size="4.15" text-anchor="end" font-weight="bold" transform="rotate(-45 244.61 127.00)" fill="#000">1,68E-04</text>
<text x="259.08" y="127.00" font-size="4.15" text-anchor="end" font-weight="bold" transform="rotate(-45 259.08 127.00)" fill="#000">1,96E-04</text>
<text x="273.55" y="127.00" font-size="4.15" text-anchor="end" font-weight="bold" transform="rotate(-45 273.55 127.00)" fill="#000">2,41E-04</text>
<text x="288.02" y="127.00" font-size="4.15" text-anchor="end" font-weight="bold" transform="rotate(-45 288.02 127.00)" fill="#000">2,87E-04</text>
<text x="302.49" y="127.00" font-size="4.15" text-anchor="end" font-weight="bold" transform="rotate(-45 302.49 127.00)" fill="#000">3,34E-04</text>
<text x="316.96" y="127.00" font-size="4.15" text-anchor="end" font-weight="bold" transform="rotate(-45 316.96 127.00)" fill="#000">3,81E-04</text>
<polyline points="228.94,121.30 243.41,115.72 257.88,110.14 272.35,101.77 286.82,93.40 301.29,85.03 315.76,73.87" fill="none" stroke="#4285f4" stroke-width="0.9" stroke-linejoin="round"/>
<circle cx="228.94" cy="121.30" r="1.75" fill="#4285f4"/>
<circle cx="243.41" cy="115.72" r="1.75" fill="#4285f4"/>
<circle cx="257.88" cy="110.14" r="1.75" fill="#4285f4"/>
<circle cx="272.35" cy="101.77" r="1.75" fill="#4285f4"/>
<circle cx="286.82" cy="93.40" r="1.75" fill="#4285f4"/>
<circle cx="301.29" cy="85.03" r="1.75" fill="#4285f4"/>
<circle cx="315.76" cy="73.87" r="1.75" fill="#4285f4"/>
<polyline points="228.94,117.95 243.41,113.49 257.88,109.86 272.35,102.61 286.82,93.96 301.29,83.63 315.76,71.64" fill="none" stroke="#ea4335" stroke-width="0.9" stroke-linejoin="round"/>
<circle cx="228.94" cy="117.95" r="1.75" fill="#ea4335"/>
<circle cx="243.41" cy="113.49" r="1.75" fill="#ea4335"/>
<circle cx="257.88" cy="109.86" r="1.75" fill="#ea4335"/>
<circle cx="272.35" cy="102.61" r="1.75" fill="#ea4335"/>
<circle cx="286.82" cy="93.96" r="1.75" fill="#ea4335"/>
<circle cx="301.29" cy="83.63" r="1.75" fill="#ea4335"/>
<circle cx="315.76" cy="71.64" r="1.75" fill="#ea4335"/>
<text x="280.00" y="59.00" font-size="4.3" text-anchor="middle" font-weight="bold" fill="#000">Fteor vs Fexp (placa plana)</text>
<text x="209.80" y="93.30" font-size="4.3" text-anchor="middle" transform="rotate(-90 209.80 93.30)" fill="#000">F (N)</text>
<text x="272.00" y="145.00" font-size="4.3" text-anchor="middle" fill="#000">Flujo V(m^3/s)</text>
<line x1="329" y1="102.5" x2="337.5" y2="102.5" stroke="#4285f4" stroke-width="0.9"/>
<circle cx="333.25" cy="102.5" r="1.4" fill="#4285f4"/>
<text x="337.80" y="104.00" font-size="4.35" text-anchor="start" fill="#000">Fexp (N)</text>
<line x1="329" y1="109.7" x2="337.5" y2="109.7" stroke="#ea4335" stroke-width="0.9"/>
<circle cx="333.25" cy="109.7" r="1.4" fill="#ea4335"/>
<text x="337.80" y="111.20" font-size="4.35" text-anchor="start" fill="#000">Fteor (N)</text>
<rect x="202.5" y="184.5" width="195.89999999999998" height="121.10000000000002" rx="4.5" ry="4.5" fill="#fff" stroke="#c2c2c2" stroke-width="0.85"/>
<text x="216.60" y="287.70" font-size="4.3" text-anchor="end" fill="#000">0</text>
<line x1="220.3" y1="276.48" x2="360.5" y2="276.48" stroke="#cfcfcf" stroke-width="0.6"/>
<text x="216.60" y="277.98" font-size="4.3" text-anchor="end" fill="#000">0</text>
<line x1="220.3" y1="266.76" x2="360.5" y2="266.76" stroke="#cfcfcf" stroke-width="0.6"/>
<text x="216.60" y="268.26" font-size="4.3" text-anchor="end" fill="#000">0</text>
<line x1="220.3" y1="257.03" x2="360.5" y2="257.03" stroke="#cfcfcf" stroke-width="0.6"/>
<text x="216.60" y="258.53" font-size="4.3" text-anchor="end" fill="#000">1</text>
<line x1="220.3" y1="247.31" x2="360.5" y2="247.31" stroke="#cfcfcf" stroke-width="0.6"/>
<text x="216.60" y="248.81" font-size="4.3" text-anchor="end" fill="#000">1</text>
<line x1="220.3" y1="237.59" x2="360.5" y2="237.59" stroke="#cfcfcf" stroke-width="0.6"/>
<text x="216.60" y="239.09" font-size="4.3" text-anchor="end" fill="#000">1</text>
<line x1="220.3" y1="227.87" x2="360.5" y2="227.87" stroke="#cfcfcf" stroke-width="0.6"/>
<text x="216.60" y="229.37" font-size="4.3" text-anchor="end" fill="#000">1</text>
<line x1="220.3" y1="218.14" x2="360.5" y2="218.14" stroke="#cfcfcf" stroke-width="0.6"/>
<text x="216.60" y="219.64" font-size="4.3" text-anchor="end" fill="#000">1</text>
<line x1="220.3" y1="208.42" x2="360.5" y2="208.42" stroke="#cfcfcf" stroke-width="0.6"/>
<text x="216.60" y="209.92" font-size="4.3" text-anchor="end" fill="#000">2</text>
<line x1="220.3" y1="198.70" x2="360.5" y2="198.70" stroke="#cfcfcf" stroke-width="0.6"/>
<text x="216.60" y="200.20" font-size="4.3" text-anchor="end" fill="#000">2</text>
<line x1="220.3" y1="198.7" x2="220.3" y2="286.2" stroke="#808080" stroke-width="0.6"/>
<line x1="220.3" y1="286.2" x2="360.5" y2="286.2" stroke="#808080" stroke-width="0.7"/>
<text x="230.31" y="292.40" font-size="4.3" text-anchor="middle" fill="#000">1,08E-04</text>
<text x="250.34" y="292.40" font-size="4.3" text-anchor="middle" fill="#000">1,26E-04</text>
<text x="270.37" y="292.40" font-size="4.3" text-anchor="middle" fill="#000">1,47E-04</text>
<text x="290.40" y="292.40" font-size="4.3" text-anchor="middle" fill="#000">1,77E-04</text>
<text x="310.43" y="292.40" font-size="4.3" text-anchor="middle" fill="#000">2,04E-04</text>
<text x="330.46" y="292.40" font-size="4.3" text-anchor="middle" fill="#000">2,33E-04</text>
<text x="350.49" y="292.40" font-size="4.3" text-anchor="middle" fill="#000">2,65E-04</text>
<polyline points="230.31,286.20 250.34,276.48 270.37,266.76 290.40,252.17 310.43,237.59 330.46,223.01 350.49,203.56" fill="none" stroke="#4285f4" stroke-width="0.9" stroke-linejoin="round"/>
<circle cx="230.31" cy="286.20" r="1.75" fill="#4285f4"/>
<circle cx="250.34" cy="276.48" r="1.75" fill="#4285f4"/>
<circle cx="270.37" cy="266.76" r="1.75" fill="#4285f4"/>
<circle cx="290.40" cy="252.17" r="1.75" fill="#4285f4"/>
<circle cx="310.43" cy="237.59" r="1.75" fill="#4285f4"/>
<circle cx="330.46" cy="223.01" r="1.75" fill="#4285f4"/>
<circle cx="350.49" cy="203.56" r="1.75" fill="#4285f4"/>
<polyline points="230.31,283.77 250.34,275.02 270.37,267.73 290.40,255.09 310.43,241.96 330.46,226.41 350.49,206.48" fill="none" stroke="#ea4335" stroke-width="0.9" stroke-linejoin="round"/>
<circle cx="230.31" cy="283.77" r="1.75" fill="#ea4335"/>
<circle cx="250.34" cy="275.02" r="1.75" fill="#ea4335"/>
<circle cx="270.37" cy="267.73" r="1.75" fill="#ea4335"/>
<circle cx="290.40" cy="255.09" r="1.75" fill="#ea4335"/>
<circle cx="310.43" cy="241.96" r="1.75" fill="#ea4335"/>
<circle cx="330.46" cy="226.41" r="1.75" fill="#ea4335"/>
<circle cx="350.49" cy="206.48" r="1.75" fill="#ea4335"/>
<text x="300.40" y="192.30" font-size="4.3" text-anchor="middle" font-weight="bold" fill="#000">Fteor VS Fexp (placa cónica)</text>
<text x="212.30" y="244.00" font-size="4.3" text-anchor="middle" transform="rotate(-90 212.30 244.00)" fill="#000">F (N)</text>
<text x="290.50" y="298.80" font-size="4.3" text-anchor="middle" fill="#000">Flujo V(m^3/s)</text>
<line x1="367.4" y1="245.6" x2="376" y2="245.6" stroke="#4285f4" stroke-width="0.9"/>
<circle cx="371.7" cy="245.6" r="1.4" fill="#4285f4"/>
<text x="376.30" y="247.10" font-size="4.35" text-anchor="start" fill="#000">Fexp (N)</text>
<line x1="367.4" y1="253.4" x2="376" y2="253.4" stroke="#ea4335" stroke-width="0.9"/>
<circle cx="371.7" cy="253.4" r="1.4" fill="#ea4335"/>
<text x="376.30" y="254.90" font-size="4.35" text-anchor="start" fill="#000">Fteor (N)</text>
<rect x="202.5" y="319.25" width="195.89999999999998" height="120.75" rx="4.5" ry="4.5" fill="#fff" stroke="#c2c2c2" stroke-width="0.85"/>
<text x="223.00" y="422.00" font-size="4.3" text-anchor="end" fill="#000">0,00</text>
<line x1="226.7" y1="402.90" x2="360.7" y2="402.90" stroke="#cfcfcf" stroke-width="0.6"/>
<text x="223.00" y="404.40" font-size="4.3" text-anchor="end" fill="#000">0,50</text>
<line x1="226.7" y1="385.30" x2="360.7" y2="385.30" stroke="#cfcfcf" stroke-width="0.6"/>
<text x="223.00" y="386.80" font-size="4.3" text-anchor="end" fill="#000">1,00</text>
<line x1="226.7" y1="367.70" x2="360.7" y2="367.70" stroke="#cfcfcf" stroke-width="0.6"/>
<text x="223.00" y="369.20" font-size="4.3" text-anchor="end" fill="#000">1,50</text>
<line x1="226.7" y1="350.10" x2="360.7" y2="350.10" stroke="#cfcfcf" stroke-width="0.6"/>
<text x="223.00" y="351.60" font-size="4.3" text-anchor="end" fill="#000">2,00</text>
<line x1="226.7" y1="332.50" x2="360.7" y2="332.50" stroke="#cfcfcf" stroke-width="0.6"/>
<text x="223.00" y="334.00" font-size="4.3" text-anchor="end" fill="#000">2,50</text>
<line x1="226.7" y1="332.5" x2="226.7" y2="420.5" stroke="#808080" stroke-width="0.6"/>
<line x1="226.7" y1="420.5" x2="360.7" y2="420.5" stroke="#808080" stroke-width="0.7"/>
<text x="236.27" y="426.70" font-size="4.3" text-anchor="middle" fill="#000">1,08E-04</text>
<text x="255.41" y="426.70" font-size="4.3" text-anchor="middle" fill="#000">1,61E-04</text>
<text x="274.56" y="426.70" font-size="4.3" text-anchor="middle" fill="#000">2,04E-04</text>
<text x="293.70" y="426.70" font-size="4.3" text-anchor="middle" fill="#000">2,47E-04</text>
<text x="312.84" y="426.70" font-size="4.3" text-anchor="middle" fill="#000">2,85E-04</text>
<text x="331.99" y="426.70" font-size="4.3" text-anchor="middle" fill="#000">3,02E-04</text>
<text x="351.13" y="426.70" font-size="4.3" text-anchor="middle" fill="#000">3,30E-04</text>
<polyline points="236.27,420.50 255.41,406.77 274.56,393.04 293.70,378.96 312.84,365.24 331.99,351.51 351.13,337.78" fill="none" stroke="#4285f4" stroke-width="0.9" stroke-linejoin="round"/>
<circle cx="236.27" cy="420.50" r="1.75" fill="#4285f4"/>
<circle cx="255.41" cy="406.77" r="1.75" fill="#4285f4"/>
<circle cx="274.56" cy="393.04" r="1.75" fill="#4285f4"/>
<circle cx="293.70" cy="378.96" r="1.75" fill="#4285f4"/>
<circle cx="312.84" cy="365.24" r="1.75" fill="#4285f4"/>
<circle cx="331.99" cy="351.51" r="1.75" fill="#4285f4"/>
<circle cx="351.13" cy="337.78" r="1.75" fill="#4285f4"/>
<polyline points="236.27,414.16 255.41,403.60 274.56,392.34 293.70,378.26 312.84,363.83 331.99,356.79 351.13,344.12" fill="none" stroke="#ea4335" stroke-width="0.9" stroke-linejoin="round"/>
<circle cx="236.27" cy="414.16" r="1.75" fill="#ea4335"/>
<circle cx="255.41" cy="403.60" r="1.75" fill="#ea4335"/>
<circle cx="274.56" cy="392.34" r="1.75" fill="#ea4335"/>
<circle cx="293.70" cy="378.26" r="1.75" fill="#ea4335"/>
<circle cx="312.84" cy="363.83" r="1.75" fill="#ea4335"/>
<circle cx="331.99" cy="356.79" r="1.75" fill="#ea4335"/>
<circle cx="351.13" cy="344.12" r="1.75" fill="#ea4335"/>
<text x="300.70" y="326.80" font-size="4.3" text-anchor="middle" font-weight="bold" fill="#000">Fteor VS Fexp (placa semiesférica)</text>
<text x="212.30" y="378.30" font-size="4.3" text-anchor="middle" transform="rotate(-90 212.30 378.30)" fill="#000">F (N)</text>
<text x="294.20" y="433.80" font-size="4.3" text-anchor="middle" fill="#000">Flujo V(m^3/s)</text>
<line x1="367.4" y1="380" x2="376" y2="380" stroke="#4285f4" stroke-width="0.9"/>
<circle cx="371.7" cy="380" r="1.4" fill="#4285f4"/>
<text x="376.30" y="381.50" font-size="4.35" text-anchor="start" fill="#000">Fexp (N)</text>
<line x1="367.4" y1="387.6" x2="376" y2="387.6" stroke="#ea4335" stroke-width="0.9"/>
<circle cx="371.7" cy="387.6" r="1.4" fill="#ea4335"/>
<text x="376.30" y="389.10" font-size="4.35" text-anchor="start" fill="#000">Fteor (N)</text>
<path d="M353 697.3 V583.5 Q353 579 357.5 579 H544.5 Q549 579 549 583.5 V697.3" fill="#fff" stroke="#c2c2c2" stroke-width="0.85"/>
<text x="372.10" y="673.20" font-size="4.3" text-anchor="end" fill="#000">0</text>
<line x1="375.8" y1="659.20" x2="513.6" y2="659.20" stroke="#cfcfcf" stroke-width="0.6"/>
<text x="372.10" y="660.70" font-size="4.3" text-anchor="end" fill="#000">20</text>
<line x1="375.8" y1="646.70" x2="513.6" y2="646.70" stroke="#cfcfcf" stroke-width="0.6"/>
<text x="372.10" y="648.20" font-size="4.3" text-anchor="end" fill="#000">40</text>
<line x1="375.8" y1="634.20" x2="513.6" y2="634.20" stroke="#cfcfcf" stroke-width="0.6"/>
<text x="372.10" y="635.70" font-size="4.3" text-anchor="end" fill="#000">60</text>
<line x1="375.8" y1="621.70" x2="513.6" y2="621.70" stroke="#cfcfcf" stroke-width="0.6"/>
<text x="372.10" y="623.20" font-size="4.3" text-anchor="end" fill="#000">80</text>
<line x1="375.8" y1="609.20" x2="513.6" y2="609.20" stroke="#cfcfcf" stroke-width="0.6"/>
<text x="372.10" y="610.70" font-size="4.3" text-anchor="end" fill="#000">100</text>
<line x1="375.8" y1="596.70" x2="513.6" y2="596.70" stroke="#cfcfcf" stroke-width="0.6"/>
<text x="372.10" y="598.20" font-size="4.3" text-anchor="end" fill="#000">120</text>
<line x1="375.8" y1="584.20" x2="513.6" y2="584.20" stroke="#cfcfcf" stroke-width="0.6"/>
<text x="372.10" y="585.70" font-size="4.3" text-anchor="end" fill="#000">140</text>
<line x1="375.8" y1="584.2" x2="375.8" y2="671.7" stroke="#808080" stroke-width="0.9"/>
<line x1="375.8" y1="671.7" x2="513.6" y2="671.7" stroke="#808080" stroke-width="1.0"/>
<text x="381.92" y="677.40" font-size="4.15" text-anchor="end" font-weight="bold" transform="rotate(-45 381.92 677.40)" fill="#000">-49,05</text>
<text x="391.76" y="677.40" font-size="4.15" text-anchor="end" font-weight="bold" transform="rotate(-45 391.76 677.40)" fill="#000">-88,29</text>
<text x="401.61" y="677.40" font-size="4.15" text-anchor="end" font-weight="bold" transform="rotate(-45 401.61 677.40)" fill="#000">-137,34</text>
<text x="411.45" y="677.40" font-size="4.15" text-anchor="end" font-weight="bold" transform="rotate(-45 411.45 677.40)" fill="#000">-196,2</text>
<text x="421.29" y="677.40" font-size="4.15" text-anchor="end" font-weight="bold" transform="rotate(-45 421.29 677.40)" fill="#000">-255,06</text>
<text x="431.14" y="677.40" font-size="4.15" text-anchor="end" font-weight="bold" transform="rotate(-45 431.14 677.40)" fill="#000">-304,11</text>
<text x="440.98" y="677.40" font-size="4.15" text-anchor="end" font-weight="bold" transform="rotate(-45 440.98 677.40)" fill="#000">-362,97</text>
<text x="450.82" y="677.40" font-size="4.15" text-anchor="end" font-weight="bold" transform="rotate(-45 450.82 677.40)" fill="#000">-421,83</text>
<text x="460.66" y="677.40" font-size="4.15" text-anchor="end" font-weight="bold" transform="rotate(-45 460.66 677.40)" fill="#000">-461,07</text>
<text x="470.51" y="677.40" font-size="4.15" text-anchor="end" font-weight="bold" transform="rotate(-45 470.51 677.40)" fill="#000">-500,31</text>
<text x="480.35" y="677.40" font-size="4.15" text-anchor="end" font-weight="bold" transform="rotate(-45 480.35 677.40)" fill="#000">-510,12</text>
<text x="490.19" y="677.40" font-size="4.15" text-anchor="end" font-weight="bold" transform="rotate(-45 490.19 677.40)" fill="#000">-519,93</text>
<text x="500.04" y="677.40" font-size="4.15" text-anchor="end" font-weight="bold" transform="rotate(-45 500.04 677.40)" fill="#000">-519,93</text>
<text x="509.88" y="677.40" font-size="4.15" text-anchor="end" font-weight="bold" transform="rotate(-45 509.88 677.40)" fill="#000">-519,93</text>
<polyline points="380.72,671.70 390.56,665.45 400.41,659.20 410.25,652.95 420.09,646.70 429.94,640.45 439.78,634.20 449.62,627.95 459.46,621.70 469.31,615.45 479.15,609.20 488.99,602.95 498.84,596.70 508.68,593.58" fill="none" stroke="#4285f4" stroke-width="0.9" stroke-linejoin="round"/>
<line x1="520.4" y1="639.6" x2="529" y2="639.6" stroke="#4285f4" stroke-width="0.9"/>
<text x="529.30" y="641.10" font-size="4.35" text-anchor="start" fill="#000">Series1</text>
</svg>
</div></body></html>
